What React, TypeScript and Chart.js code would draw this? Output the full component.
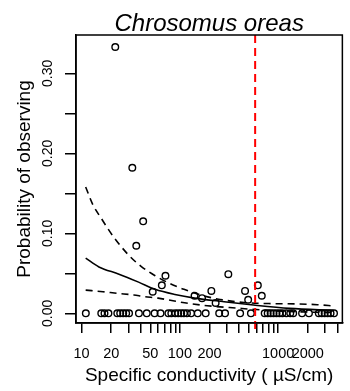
import React, { useEffect, useRef } from "react";
import { Chart, registerables } from "chart.js";

Chart.register(...registerables);

// ---- data ----
// sites where the species was not observed (probability 0)
const zeroX = [
  11.04, 15.85, 17.1, 18.75, 23.07, 24.7, 26.5, 28.4, 30.4, 38.3, 46.0, 55.3, 63.5,
  76.4, 81.8, 89.7, 96.2, 103, 110, 118, 130, 152, 183, 251, 288, 410, 528,
  729, 782, 838, 897, 962, 1030, 1104, 1211, 1327, 1422, 1750, 2056,
  2588, 2773, 2972, 3184, 3412, 3698,
];
// sites/bins with a positive observed probability
const posX = [22, 32.8, 36, 42.3, 52.9, 65.5, 71.3, 141, 168, 209, 231, 311, 460, 495, 621, 681];
const posY = [0.333, 0.182, 0.0845, 0.115, 0.027, 0.035, 0.047, 0.022, 0.019, 0.028, 0.013, 0.049, 0.028, 0.017, 0.035, 0.022];

// fitted curve
const fitX = [11, 15, 24, 38, 56, 89, 141, 282, 560, 1300, 3698];
const fitY = [0.069, 0.058, 0.049, 0.039, 0.03, 0.0235, 0.019, 0.0145, 0.0104, 0.0062, 0.0036];
// upper confidence bound
const upX = [11, 13, 16, 21, 30, 40, 56, 83, 110, 152, 240, 450, 800, 1500, 2500, 3698];
const upY = [0.158, 0.136, 0.118, 0.096, 0.073, 0.059, 0.047, 0.036, 0.03, 0.024, 0.018, 0.0135, 0.0122, 0.0118, 0.0108, 0.0092];
// lower confidence bound
const lowX = [11, 16.5, 23, 34, 43, 60, 91, 121, 190, 380, 760, 1500, 3698];
const lowY = [0.029, 0.027, 0.025, 0.023, 0.021, 0.019, 0.015, 0.0125, 0.0095, 0.0065, 0.0038, 0.002, 0.0009];

// threshold (red dashed line)
const thresholdX = 583;

// axes
const xTicks = [10, 20, 30, 40, 50, 60, 70, 80, 90, 100, 200, 300, 400, 500, 600, 700, 800, 900, 1000, 2000, 3000, 4000];
const xLabels = [10, 20, 50, 100, 200, 1000, 2000];
const yTicks = [0, 0.05, 0.1, 0.15, 0.2, 0.25, 0.3];
const yLabels = ["0.00", "", "0.10", "", "0.20", "", "0.30"];
const X_MIN = 8.77;
const X_MAX = 4498;
const Y_MIN = -0.0121;
const Y_MAX = 0.348;

const titleText = "Chrosomus oreas";
const xTitle = "Specific conductivity ( \u00b5S/cm)";
const yTitle = "Probability of observing";

const FONT = "'Liberation Sans', Arial, Helvetica, sans-serif";

const boxPlugin = {
  id: "plotBox",
  afterDatasetsDraw(chart: any) {
    const { ctx, chartArea } = chart;
    const { left, top, right, bottom } = chartArea;
    ctx.save();
    ctx.strokeStyle = "#000";
    ctx.lineWidth = 1.5;
    ctx.strokeRect(left, top, right - left, bottom - top);
    ctx.restore();
  },
};

export default function App() {
  const ref = useRef<HTMLCanvasElement | null>(null);

  useEffect(() => {
    document.body.style.margin = "0";
    const canvas = ref.current;
    if (!canvas) return;

    const zeroPts = zeroX.map((x) => ({ x, y: 0 }));
    const posPts = posX.map((x, i) => ({ x, y: posY[i] }));
    const pts = zeroPts.concat(posPts);

    const chart = new Chart(canvas, {
      type: "scatter",
      data: {
        datasets: [
          {
            label: "threshold",
            data: [
              { x: thresholdX, y: Y_MAX },
              { x: thresholdX, y: -0.0235 },
            ],
            showLine: true,
            borderColor: "#ff0000",
            borderWidth: 2,
            borderDash: [8, 5],
            pointRadius: 0,
            clip: false as any,
          },
          {
            label: "fit",
            data: fitX.map((x, i) => ({ x, y: fitY[i] })),
            showLine: true,
            borderColor: "#000",
            borderWidth: 1.6,
            pointRadius: 0,
            cubicInterpolationMode: "monotone",
          },
          {
            label: "upper",
            data: upX.map((x, i) => ({ x, y: upY[i] })),
            showLine: true,
            borderColor: "#000",
            borderWidth: 1.6,
            borderDash: [7, 5],
            pointRadius: 0,
            cubicInterpolationMode: "monotone",
          },
          {
            label: "lower",
            data: lowX.map((x, i) => ({ x, y: lowY[i] })),
            showLine: true,
            borderColor: "#000",
            borderWidth: 1.6,
            borderDash: [7, 5],
            pointRadius: 0,
            cubicInterpolationMode: "monotone",
          },
          {
            label: "observed",
            data: pts,
            showLine: false,
            pointRadius: 3.3,
            pointBorderWidth: 1.4,
            pointBorderColor: "#000",
            pointBackgroundColor: "rgba(0,0,0,0)",
          },
        ],
      },
      options: {
        responsive: false,
        animation: false,
        events: [],
        layout: { padding: { left: 0, right: 3, top: 0, bottom: 0 } },
        plugins: {
          legend: { display: false },
          tooltip: { enabled: false },
          title: {
            display: true,
            text: titleText,
            fullSize: false,
            color: "#000",
            font: { family: FONT, size: 24, style: "italic", weight: "normal", lineHeight: 1 },
            padding: { top: 12, bottom: -1 },
          },
        },
        scales: {
          x: {
            type: "logarithmic",
            min: X_MIN,
            max: X_MAX,
            afterBuildTicks: (scale: any) => {
              scale.ticks = xTicks.map((v) => ({ value: v }));
            },
            afterFit: (scale: any) => {
              scale.height = 68;
            },
            grid: {
              drawOnChartArea: false,
              drawTicks: true,
              tickLength: 10,
              tickColor: "#000",
              lineWidth: 1.5,
            },
            border: { display: true, color: "#000", width: 1.5 },
            ticks: {
              autoSkip: false,
              maxRotation: 0,
              minRotation: 0,
              color: "#000",
              padding: 12.5,
              font: { family: FONT, size: 14.5 },
              callback: (v: any) => {
                const n = Math.round(Number(v));
                return xLabels.includes(n) ? String(n) : "";
              },
            },
            title: {
              display: true,
              text: xTitle,
              color: "#000",
              font: { family: FONT, size: 19 },
              padding: { top: 0, bottom: 3.6 },
            },
          },
          y: {
            type: "linear",
            min: Y_MIN,
            max: Y_MAX,
            afterBuildTicks: (scale: any) => {
              scale.ticks = yTicks.map((v) => ({ value: v }));
            },
            afterFit: (scale: any) => {
              scale.width = 76;
            },
            grid: {
              drawOnChartArea: false,
              drawTicks: true,
              tickLength: 11,
              tickColor: "#000",
              lineWidth: 1.5,
            },
            border: { display: true, color: "#000", width: 1.5 },
            ticks: {
              autoSkip: false,
              minRotation: 90,
              maxRotation: 90,
              crossAlign: "center",
              color: "#000",
              padding: 3,
              font: { family: FONT, size: 14 },
              callback: (_v: any, i: number) => yLabels[i] ?? "",
            },
            title: {
              display: true,
              text: yTitle,
              color: "#000",
              font: { family: FONT, size: 19 },
              padding: { top: 13.6, bottom: 0 },
            },
          },
        },
      } as any,
      plugins: [boxPlugin],
    });

    return () => chart.destroy();
  }, []);

  return (
    <div style={{ width: 350, height: 391 }}>
      <canvas ref={ref} width={350} height={391} style={{ display: "block", width: 350, height: 391 }} />
    </div>
  );
}
